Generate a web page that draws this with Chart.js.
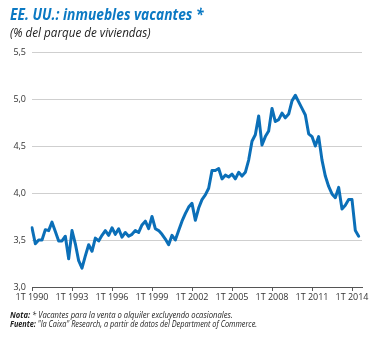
<!DOCTYPE html>
<html>
<head>
<meta charset="utf-8">
<script src="https://cdn.jsdelivr.net/npm/chart.js@4.4.1/dist/chart.umd.min.js"></script>
<style>
  html, body { margin: 0; padding: 0; background: #ffffff; }
  #wrap { position: relative; width: 384px; height: 338px; overflow: hidden; font-family: "Open Sans", sans-serif; }
  #c { position: absolute; left: 0; top: 0; }
  .t { position: absolute; left: 10px; white-space: nowrap; transform-origin: left center; }
  #title { top: 4px; font-size: 15.5px; font-weight: 700; font-style: italic; color: #0b79c3; transform: scaleX(0.89); line-height: 20px; }
  #sub { top: 25px; font-size: 12px; font-style: italic; color: #222; transform: scaleX(0.97); line-height: 16px; }
  #n1 { top: 309px; font-size: 8.5px; font-style: italic; color: #222; transform: scaleX(0.9); line-height: 11px; }
  #n2 { top: 318px; font-size: 8.5px; font-style: italic; color: #222; transform: scaleX(0.86); line-height: 11px; }
  b { font-weight: 700; }
</style>
</head>
<body>
<div id="wrap">
  <canvas id="c" width="384" height="338"></canvas>
  <div class="t" id="title">EE. UU.: inmuebles vacantes *</div>
  <div class="t" id="sub">(% del parque de viviendas)</div>
  <div class="t" id="n1"><b>Nota:</b> * Vacantes para la venta o alquiler excluyendo ocasionales.</div>
  <div class="t" id="n2"><b>Fuente:</b> "la Caixa" Research, a partir de datos del Department of Commerce.</div>
</div>
<script>
// Quarterly categories 1T 1990 ... 4T 2014
const years = [];
for (let y = 1990; y <= 2014; y++) years.push(y);
const quarters = ["1T", "2T", "3T", "4T"];
const categories = [];
years.forEach(y => quarters.forEach(q => categories.push(q + " " + y)));

// Vacant housing (% of housing stock)
const vacantes = [
  3.63, 3.46, 3.50, 3.50, 3.61, 3.60, 3.69, 3.59, 3.49, 3.49, 3.54, 3.30,
  3.60, 3.46, 3.28, 3.20, 3.33, 3.45, 3.38, 3.52, 3.49, 3.55, 3.60, 3.55,
  3.63, 3.56, 3.62, 3.53, 3.58, 3.54, 3.56, 3.60, 3.58, 3.66, 3.70, 3.62,
  3.75, 3.62, 3.60, 3.56, 3.51, 3.45, 3.55, 3.50, 3.60, 3.70, 3.78, 3.85,
  3.89, 3.71, 3.84, 3.93, 3.98, 4.05, 4.24, 4.24, 4.26, 4.15, 4.19, 4.17,
  4.20, 4.15, 4.22, 4.18, 4.22, 4.35, 4.55, 4.62, 4.82, 4.51, 4.60, 4.66,
  4.90, 4.76, 4.78, 4.85, 4.80, 4.84, 4.98, 5.04, 4.97, 4.90, 4.83, 4.63,
  4.60, 4.50, 4.60, 4.35, 4.18, 4.07, 3.99, 3.95, 4.06, 3.83, 3.87, 3.93,
  3.93, 3.60, 3.54
];

const yMin = 3.0, yMax = 5.5, yStep = 0.5;

new Chart(document.getElementById("c"), {
  type: "line",
  data: {
    labels: categories,
    datasets: [{
      data: vacantes,
      borderColor: "#0b6fb8",
      borderWidth: 3,
      pointRadius: 0,
      tension: 0,
      fill: false,
      borderCapStyle: "round",
      borderJoinStyle: "round"
    }]
  },
  options: {
    responsive: false,
    animation: false,
    layout: { padding: { left: 0, right: 22, top: 52, bottom: 0 } },
    plugins: { legend: { display: false }, tooltip: { enabled: false }, title: { display: false } },
    scales: {
      x: {
        type: "category",
        offset: false,
        afterFit: s => { s.height = 51; },
        border: { display: true, color: "#555", width: 1 },
        grid: { drawOnChartArea: false, drawTicks: true, tickLength: 4, color: "#555", lineWidth: 1 },
        ticks: {
          autoSkip: false,
          maxRotation: 0,
          minRotation: 0,
          padding: 1,
          color: "#333",
          font: { family: "Open Sans", size: 9 },
          callback: function (value, index) {
            return index % 12 === 0 ? this.getLabelForValue(value) : null;
          }
        }
      },
      y: {
        min: yMin,
        max: yMax,
        afterFit: s => { s.width = 32; },
        border: { display: false },
        grid: { drawTicks: false, color: "#cfcfcf", lineWidth: 1 },
        ticks: {
          stepSize: yStep,
          padding: 6,
          color: "#333",
          font: { family: "Open Sans", size: 9 },
          callback: v => v.toFixed(1).replace(".", ",")
        }
      }
    }
  }
});
</script>
</body>
</html>
